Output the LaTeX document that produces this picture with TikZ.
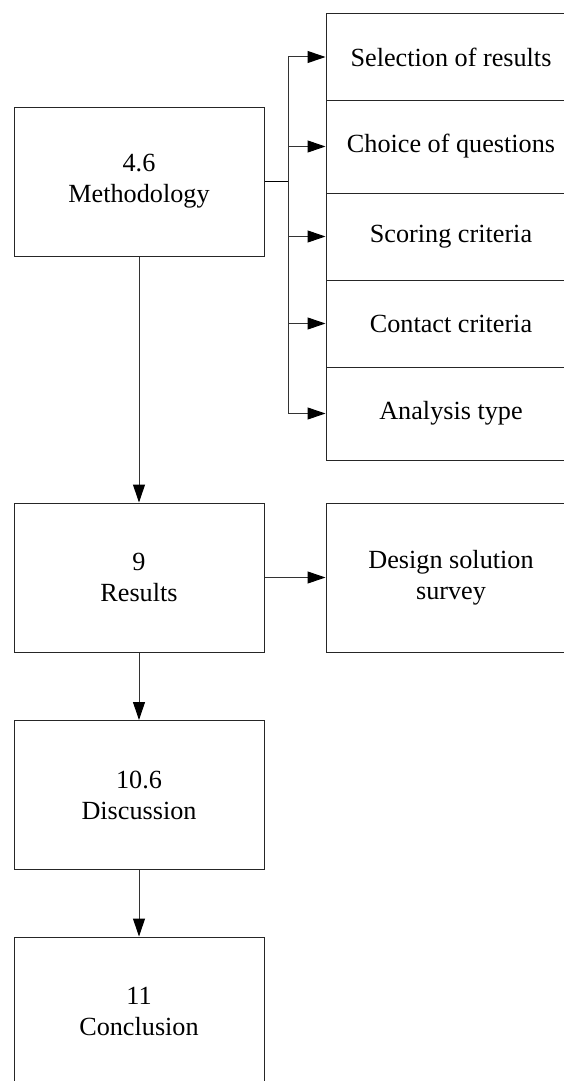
\documentclass[tikz,border=0pt]{standalone}
\usepackage{fontspec}
\setmainfont{Liberation Serif}
\usetikzlibrary{arrows.meta}
\begin{document}
\begin{tikzpicture}[x=1pt,y=-1pt,
  box/.style={draw=black!85, line width=1pt, rectangle, inner sep=0pt,
    align=center, minimum width=250pt,
    font=\fontsize{26.2}{31}\selectfont},
  mainbox/.style={box, minimum height=149pt},
  arr/.style={draw=black!80, line width=1pt,
    -{Triangle[length=18pt,width=12pt,color=black]}}
]
\useasboundingbox (0,0) rectangle (564,1081);
\clip (0,0) rectangle (564,1081);

% main chain of chapters
\node[mainbox] (meth) at (139,181.5) {4.6\\Methodology};
\node[mainbox] (res)  at (139,577.5) {9\\Results};
\node[mainbox] (disc) at (139,795)   {10.6\\Discussion};
\node[mainbox] (conc) at (139,1011.5){11\\Conclusion};

% stacked sub-topics of the methodology
\node[box, minimum height=86pt] (sel)  at (451,57)    {Selection of results};
\node[box, minimum height=93pt] (cho)  at (451,146.5) {Choice of questions};
\node[box, minimum height=87pt] (sco)  at (451,236.5) {Scoring criteria};
\node[box, minimum height=87pt] (con)  at (451,323.5) {Contact criteria};
\node[box, minimum height=93pt] (ana)  at (451,413.5) {Analysis type};

% survey box beside the results
\node[mainbox] (des) at (451,577.5) {Design solution\\survey};

% branch point of the methodology fan-out
\coordinate (br) at (288,181.5);
\draw[draw=black, line width=1.3pt] (meth.east) -- (br);
\foreach \t in {sel,cho,sco,con,ana}
  \draw[arr] (br) |- (\t.west);

% flow between chapters
\draw[arr] (meth.south) -- (res.north);
\draw[arr] (res.east) -- (des.west);
\draw[arr] (res.south) -- (disc.north);
\draw[arr] (disc.south) -- (conc.north);
\end{tikzpicture}
\end{document}
